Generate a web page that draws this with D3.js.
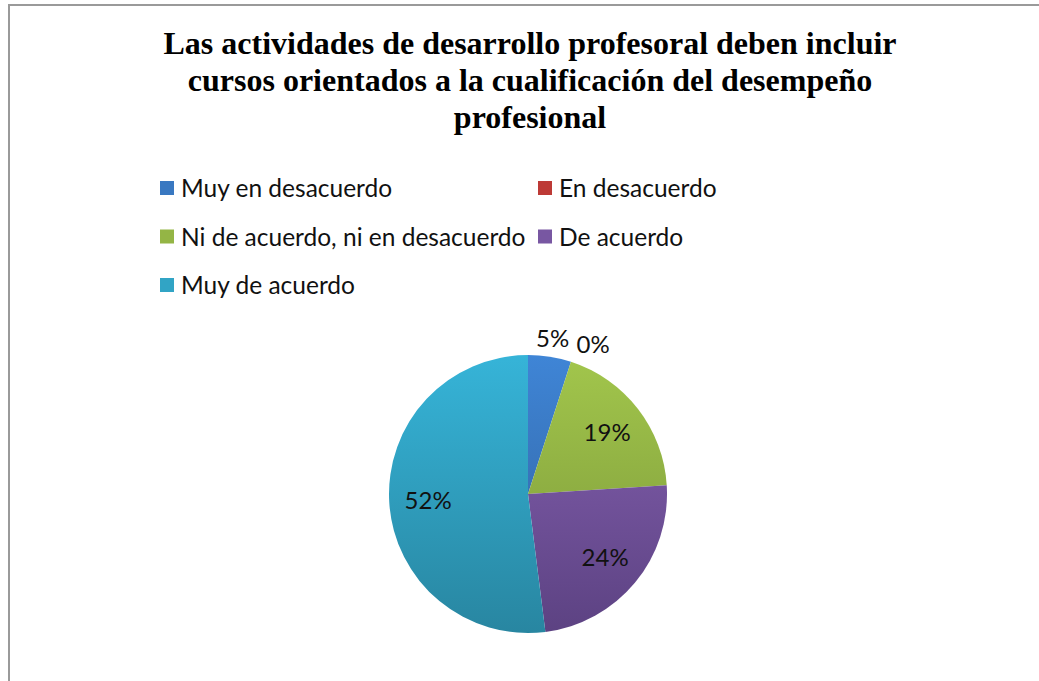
<!DOCTYPE html>
<html>
<head>
<meta charset="utf-8">
<script src="https://cdn.jsdelivr.net/npm/d3@7/dist/d3.min.js"></script>
<style>
  body { margin: 0; background: #fff; }
  svg { display: block; }
</style>
</head>
<body>
<svg id="chart"></svg>
<script>
const w = 1039;
const h = 681;

const titleLines = [
  "Las actividades de desarrollo profesoral deben incluir",
  "cursos orientados a la cualificación del desempeño",
  "profesional"
];
const categories = [
  "Muy en desacuerdo",
  "En desacuerdo",
  "Ni de acuerdo, ni en desacuerdo",
  "De acuerdo",
  "Muy de acuerdo"
];
const percents = [5, 0, 19, 24, 52];
// top / bottom shade of each slice
const lightColors = ["#3f85d6", "#d0403c", "#a2c64c", "#8762b3", "#36b4d8"];
const darkColors = ["#2f5f9a", "#9a2e2b", "#7a9638", "#5c4282", "#2886a1"];

const svg = d3.select("#chart").attr("width", w).attr("height", h);

// frame (top and left edges only are visible)
svg.append("path")
  .attr("d", `M9,${h} L9,5 L${w},5`)
  .attr("fill", "none")
  .attr("stroke", "#9a9a9a")
  .attr("stroke-width", 2);

// title
svg.append("g")
  .selectAll("text")
  .data(titleLines)
  .enter()
  .append("text")
  .attr("x", 530)
  .attr("y", (d, i) => 54 + i * 37)
  .attr("text-anchor", "middle")
  .attr("font-family", "Liberation Serif, Times New Roman, serif")
  .attr("font-weight", "bold")
  .attr("font-size", 32)
  .attr("fill", "#000")
  .text(d => d);

// legend, two columns
const legendX = d3.scaleOrdinal().domain([0, 1]).range([160, 538]);
const legendY = d3.scalePoint().domain([0, 1, 2]).range([197, 294]);

const legend = svg.append("g")
  .selectAll("g")
  .data(categories)
  .enter()
  .append("g")
  .attr("transform", (d, i) => `translate(${legendX(i % 2)},${legendY(Math.floor(i / 2))})`);

legend.append("rect")
  .attr("x", 0)
  .attr("y", -16)
  .attr("width", 14)
  .attr("height", 14)
  .attr("fill", (d, i) => d3.interpolateRgb(lightColors[i], darkColors[i])(0.35));

legend.append("text")
  .attr("x", 21)
  .attr("y", 0)
  .attr("font-family", "Lato, Open Sans, sans-serif")
  .attr("font-size", 24.5)
  .attr("fill", "#111")
  .text(d => d);

// pie
const cx = 528, cy = 494, r = 139;
const data = categories.map((c, i) => ({ name: c, value: percents[i], i: i }));

const pie = d3.pie().sort(null).value(d => d.value);
const arcs = pie(data);
const arc = d3.arc().innerRadius(0).outerRadius(r);
const inLabel = d3.arc().innerRadius(r * 0.72).outerRadius(r * 0.72);
const outLabel = d3.arc().innerRadius(r * 1.13).outerRadius(r * 1.13);

const defs = svg.append("defs");
data.forEach((d, i) => {
  const g = defs.append("linearGradient")
    .attr("id", "grad" + i)
    .attr("gradientUnits", "userSpaceOnUse")
    .attr("x1", 0).attr("y1", -r)
    .attr("x2", 0).attr("y2", r);
  g.append("stop").attr("offset", "0%").attr("stop-color", lightColors[i]);
  g.append("stop").attr("offset", "100%").attr("stop-color", darkColors[i]);
});

const pieG = svg.append("g").attr("transform", `translate(${cx},${cy})`);

pieG.selectAll("path")
  .data(arcs.filter(a => a.data.value > 0))
  .enter()
  .append("path")
  .attr("d", arc)
  .attr("fill", d => `url(#grad${d.data.i})`)
  .attr("stroke", "none");

pieG.selectAll("text")
  .data(arcs)
  .enter()
  .append("text")
  .attr("transform", d => {
    const p = d.data.value < 10 ? outLabel.centroid(d) : inLabel.centroid(d);
    return `translate(${p[0]},${p[1]})`;
  })
  .attr("dy", "0.35em")
  .attr("text-anchor", d => d.data.value === 0 ? "start" : "middle")
  .attr("font-family", "Lato, Open Sans, sans-serif")
  .attr("font-size", 24)
  .attr("fill", "#111")
  .text(d => d.data.value + "%");
</script>
</body>
</html>
